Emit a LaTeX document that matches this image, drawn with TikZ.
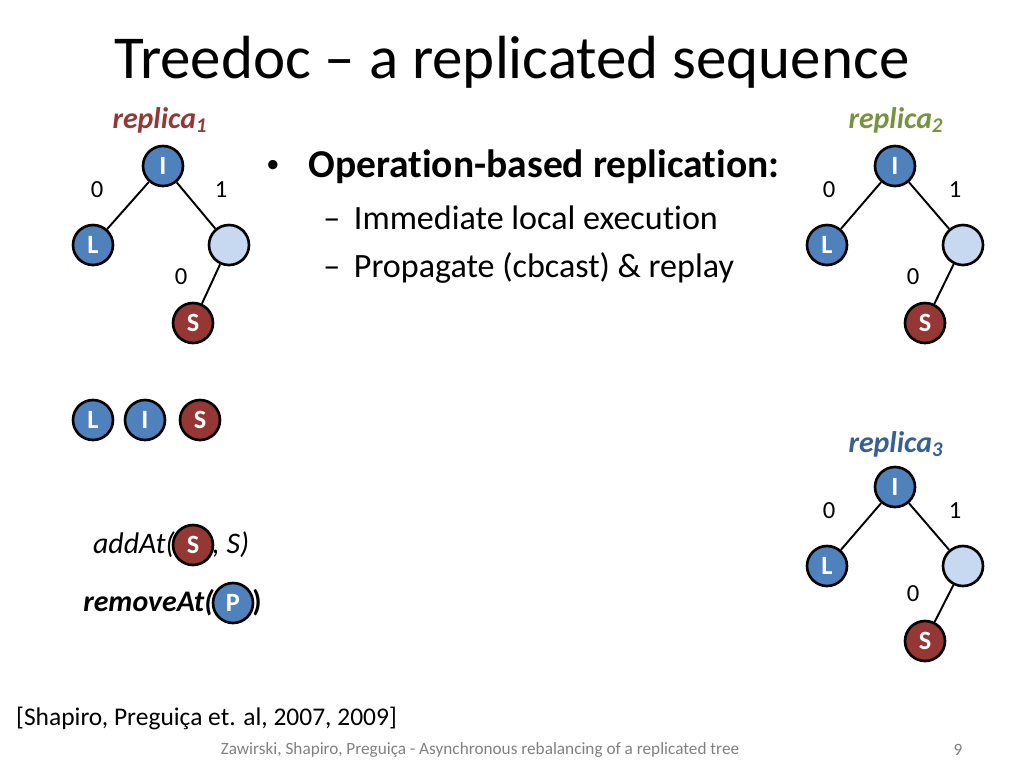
\documentclass[tikz,border=0pt]{standalone}
\usepackage{fontspec}
\setmainfont{Carlito}[Ligatures={NoCommon}]
\usepackage{tikz}
\usetikzlibrary{positioning}
\definecolor{atomblue}{HTML}{4F81BD}
\definecolor{atomred}{HTML}{953735}
\definecolor{atomlight}{HTML}{C6D9F1}
\definecolor{repred}{HTML}{953735}
\definecolor{repgreen}{HTML}{77933C}
\definecolor{repblue}{HTML}{376092}
\tikzset{
  atom/.style={draw=black,line width=1.5pt,circle,minimum size=0.8cm,inner sep=0pt,text=white,font=\fontsize{15}{15}\selectfont\bfseries},
  bluenode/.style={atom,fill=atomblue},
  rednode/.style={atom,fill=atomred},
  emptynode/.style={atom,fill=atomlight},
  edgelabel/.style={font=\fontsize{14}{14}\selectfont},
  replabel/.style={font=\fontsize{17}{17}\selectfont\bfseries\itshape},
  branch/.style={line width=1.1pt}
}
\begin{document}
\begin{tikzpicture}[x=0.02cm,y=-0.02cm]
            \useasboundingbox (0,0) rectangle (1024,768);
            \node[anchor=west,font=\fontsize{34.7}{35}\selectfont] (title) at (108,62) {Treedoc -- a replicated sequence};
            % replica 1
            \node[replabel,text=repred] (rep1) at (160,120) {replica\textsubscript{1}};
            \node[bluenode] (i1) at (163,166) {I};
            \node[bluenode] (l1) at (93,245) {L};
            \node[emptynode] (e1) at (229,245) {};
            \node[rednode] (s1) at (193,323) {S};
            \draw[branch] (i1) -- (l1);
            \draw[branch] (i1) -- (e1);
            \draw[branch] (e1) -- (s1);
            \node[edgelabel] (z1) at (97,190) {0};
            \node[edgelabel] (o1) at (221,190) {1};
            \node[edgelabel] (zz1) at (181,277) {0};
            % replica 2
            \node[replabel,text=repgreen] (rep2) at (896,120) {replica\textsubscript{2}};
            \node[bluenode] (i2) at (895,166) {I};
            \node[bluenode] (l2) at (827,245) {L};
            \node[emptynode] (e2) at (963,245) {};
            \node[rednode] (s2) at (925,323) {S};
            \draw[branch] (i2) -- (l2);
            \draw[branch] (i2) -- (e2);
            \draw[branch] (e2) -- (s2);
            \node[edgelabel] (z2) at (829,190) {0};
            \node[edgelabel] (o2) at (955,190) {1};
            \node[edgelabel] (zz2) at (913,277) {0};
            % replica 3
            \node[replabel,text=repblue] (rep3) at (896,444) {replica\textsubscript{3}};
            \node[bluenode] (i3) at (895,487) {I};
            \node[bluenode] (l3) at (827,566) {L};
            \node[emptynode] (e3) at (963,566) {};
            \node[rednode] (s3) at (925,641) {S};
            \draw[branch] (i3) -- (l3);
            \draw[branch] (i3) -- (e3);
            \draw[branch] (e3) -- (s3);
            \node[edgelabel] (z3) at (829,511) {0};
            \node[edgelabel] (o3) at (955,511) {1};
            \node[edgelabel] (zz3) at (913,594) {0};
            % sequence
            \node[bluenode] (seql) at (93,420) {L};
            \node[bluenode] (seqi) at (145,420) {I};
            \node[rednode] (seqs) at (200,420) {S};
            % operations
            \node[rednode] (adds) at (193,545) {S};
            \node[anchor=east,font=\fontsize{17}{17}\selectfont\itshape,inner sep=0pt] (addl) at (175,545) {addAt(};
            \node[anchor=west,font=\fontsize{17}{17}\selectfont\itshape,inner sep=0pt] (addr) at (212,545) {, S)};
            \node[bluenode] (remp) at (233,603) {P};
            \node[anchor=east,font=\fontsize{17}{17}\selectfont\bfseries\itshape,inner sep=0pt] (reml) at (214,603) {removeAt(};
            \node[anchor=west,font=\fontsize{17}{17}\selectfont\bfseries,inner sep=0pt] (remr) at (252,603) {)};
            % bullets
            \node[anchor=west,inner sep=0pt,font=\fontsize{15}{15}\selectfont] (dot) at (266,166) {\textbullet};
            \node[anchor=west,inner sep=0pt,font=\fontsize{22.5}{23}\selectfont\bfseries] (op) at (308,167) {Operation-based replication:};
            \node[anchor=west,inner sep=0pt,font=\fontsize{19.4}{20}\selectfont] (exe) at (323,218) {--\hspace{0.4em}Immediate local execution};
            \node[anchor=west,inner sep=0pt,font=\fontsize{19.4}{20}\selectfont] (prop) at (323,268) {--\hspace{0.4em}Propagate (cbcast) \& replay};
            % footer
            \node[anchor=west,font=\fontsize{14.5}{15}\selectfont] (cite) at (10,718) {[Shapiro, Preguiça et. al, 2007, 2009]};
            \node[font=\fontsize{9.8}{10}\selectfont,text=gray] (foot) at (480,750) {Zawirski, Shapiro, Preguiça - Asynchronous rebalancing of a replicated tree};
            \node[font=\fontsize{9.8}{10}\selectfont,text=gray] (page) at (958,750) {9};
\end{tikzpicture}
\end{document}
